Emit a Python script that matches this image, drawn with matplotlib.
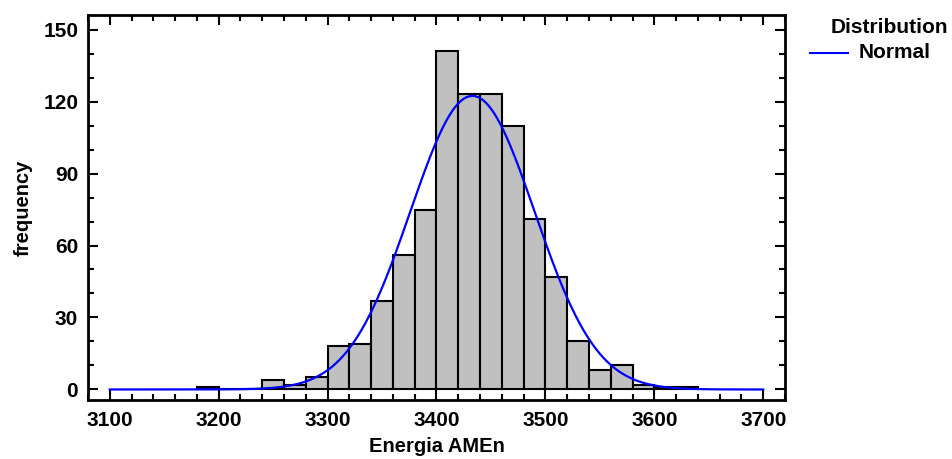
import matplotlib
matplotlib.use("Agg")
import matplotlib.pyplot as plt
from matplotlib.lines import Line2D
from matplotlib.ticker import MultipleLocator
import numpy as np

plt.rcParams['font.family'] = ['Liberation Sans', 'DejaVu Sans']
plt.rcParams['font.weight'] = 'bold'

# histogram bins (width 20) and counts
bin_left = [3180, 3200, 3220, 3240, 3260, 3280, 3300, 3320, 3340, 3360, 3380,
            3400, 3420, 3440, 3460, 3480, 3500, 3520, 3540, 3560, 3580, 3600, 3620]
counts = [1, 0, 0, 4, 2, 5, 18, 19, 37, 56, 75,
          141, 123, 123, 110, 71, 47, 20, 8, 10, 2, 1, 1]
bin_width = 20

# fitted normal distribution
mu = 3433.0
sigma = 57.0

fig = plt.figure(figsize=(9.52, 4.59), dpi=100)
ax = fig.add_axes([0.0924, 0.129, 0.7322, 0.838])

ax.bar(bin_left, counts, width=bin_width, align='edge', color='#c0c0c0',
       edgecolor='black', linewidth=1.5, zorder=2)

xs = np.linspace(3100, 3700, 600)
n = sum(counts)
ys = n * bin_width * np.exp(-0.5 * ((xs - mu) / sigma) ** 2) / (sigma * np.sqrt(2 * np.pi))
ax.plot(xs, ys, color='#0000ff', linewidth=1.6, zorder=3)

ax.set_xlim(3080, 3720)
ax.set_ylim(-4.3, 156)
ax.xaxis.set_major_locator(MultipleLocator(100))
ax.xaxis.set_minor_locator(MultipleLocator(20))
ax.yaxis.set_major_locator(MultipleLocator(30))
ax.yaxis.set_minor_locator(MultipleLocator(10))
ax.tick_params(which='both', direction='in', top=True, right=True, width=1.5,
               labelsize=15)
ax.tick_params(which='major', length=7)
ax.tick_params(which='minor', length=4)
ax.tick_params(axis='x', which='major', pad=8)
ax.tick_params(axis='y', which='major', pad=7)
for s in ax.spines.values():
    s.set_linewidth(2)

ax.set_xlabel('Energia AMEn', fontsize=14.5, fontweight='bold', labelpad=5)
ax.set_ylabel('frequency', fontsize=14.5, fontweight='bold', labelpad=8)

fig.text(0.996, 0.939, 'Distribution', fontsize=15, fontweight='bold',
         ha='right', va='center')
fig.add_artist(Line2D([0.851, 0.891], [0.885, 0.885], color='#0000ff',
                      linewidth=1.5, transform=fig.transFigure))
fig.text(0.902, 0.885, 'Normal', fontsize=15, fontweight='bold',
         ha='left', va='center')

fig.savefig('out.png', dpi=100)
